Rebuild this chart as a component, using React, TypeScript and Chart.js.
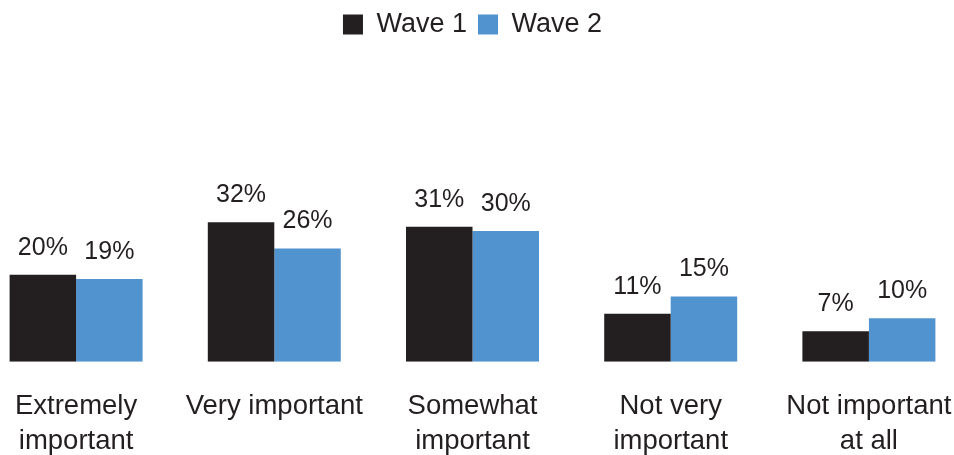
import React, { useEffect, useRef } from "react";
import { Chart, registerables } from "chart.js";

Chart.register(...registerables);

const categories: string[][] = [
  ["Extremely", "important"],
  ["Very important"],
  ["Somewhat", "important"],
  ["Not very", "important"],
  ["Not important", "at all"],
];
const wave1: number[] = [20, 32, 31, 11, 7];
const wave2: number[] = [19, 26, 30, 15, 10];
const seriesNames: string[] = ["Wave 1", "Wave 2"];

const DARK = "#231f20";
const BLUE = "#5093cf";
const FONT = "'Liberation Sans', Arial, sans-serif";

const valueLabels = {
  id: "valueLabels",
  afterDatasetsDraw(chart: any) {
    const ctx = chart.ctx;
    ctx.save();
    ctx.font = `25px ${FONT}`;
    ctx.fillStyle = DARK;
    ctx.textAlign = "center";
    ctx.textBaseline = "alphabetic";
    chart.data.datasets.forEach((ds: any, i: number) => {
      const meta = chart.getDatasetMeta(i);
      meta.data.forEach((bar: any, j: number) => {
        ctx.fillText(`${ds.data[j]}%`, bar.x, bar.y - 20);
      });
    });
    ctx.restore();
  },
};

export default function App() {
  const ref = useRef<HTMLCanvasElement | null>(null);
  useEffect(() => {
    if (!ref.current) return;
    const chart = new Chart(ref.current, {
      type: "bar",
      data: {
        labels: categories,
        datasets: [
          { label: seriesNames[0], data: wave1, backgroundColor: DARK },
          { label: seriesNames[1], data: wave2, backgroundColor: BLUE },
        ],
      },
      options: {
        animation: false,
        responsive: true,
        maintainAspectRatio: false,
        layout: { padding: 0 },
        datasets: {
          bar: { categoryPercentage: 0.671, barPercentage: 1.0 },
        },
        plugins: {
          legend: {
            position: "top",
            labels: {
              boxWidth: 20,
              boxHeight: 20,
              padding: 11,
              color: DARK,
              font: { size: 27, family: FONT },
            },
          },
          tooltip: { enabled: false },
        },
        scales: {
          x: {
            grid: { display: false, drawTicks: false },
            border: { display: false },
            afterFit(scale: any) {
              scale.paddingLeft = 0;
              scale.paddingRight = 0;
            },
            ticks: {
              color: DARK,
              padding: 28,
              maxRotation: 0,
              autoSkip: false,
              font: { size: 27.5, family: FONT, lineHeight: 1.24 },
            },
          },
          y: {
            display: false,
            min: 0,
            max: 72,
          },
        },
      },
      plugins: [valueLabels],
    });
    return () => chart.destroy();
  }, []);
  return (
    <div style={{ position: "fixed", left: 0, top: 0, width: 954, height: 455, overflow: "hidden", background: "#fff" }}>
      <div style={{ position: "absolute", left: -23, top: 0, width: 991, height: 486 }}>
        <canvas ref={ref} />
      </div>
    </div>
  );
}
